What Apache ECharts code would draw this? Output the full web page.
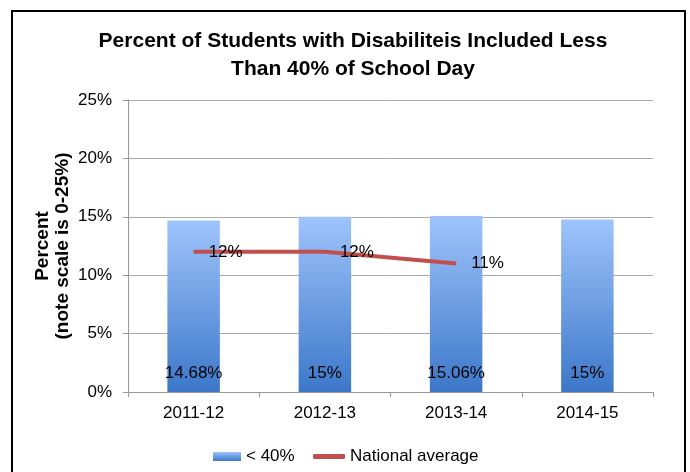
<!DOCTYPE html>
<html>
<head>
<meta charset="utf-8">
<script src="https://cdn.jsdelivr.net/npm/echarts@6/dist/echarts.min.js"></script>
<style>
  html, body { margin: 0; padding: 0; background: #fff; }
  #chart { width: 690px; height: 472px; }
</style>
</head>
<body>
<div id="chart"></div>
<script>
(function () {
  "use strict";
  const chart = echarts.init(document.getElementById("chart"));

  // values
  const years = ["2011-12", "2012-13", "2013-14", "2014-15"];
  const below40 = [14.68, 15, 15.06, 14.77];
  const below40Labels = ["14.68%", "15%", "15.06%", "15%"];
  const national = [12, 12, 11, null];
  const yTicks = [0, 5, 10, 15, 20, 25];

  const font = "'Liberation Sans', Arial, sans-serif";
  const legendText = { fontSize: 17, color: "#000", fontFamily: font };

  chart.setOption({
    animation: false,
    textStyle: { fontFamily: font },
    title: {
      text: "Percent of Students with Disabiliteis Included Less\nThan 40% of School Day",
      left: 348, textAlign: "center", top: 22,
      textStyle: { fontSize: 21, fontWeight: "bold", color: "#000", lineHeight: 28, fontFamily: font },
    },
    graphic: [{
      type: "rect", silent: true, z: 100,
      shape: { x: 12, y: 11, width: 673, height: 480 },
      style: { fill: "none", stroke: "#000", lineWidth: 2 },
    }],
    legend: [
      {
        left: 208, top: 443, itemWidth: 28, itemHeight: 9, itemGap: 0,
        textStyle: legendText,
        data: [{ name: "< 40%", icon: "rect" }],
      },
      {
        left: 308, top: 443, itemWidth: 32, itemHeight: 5, itemGap: 0,
        textStyle: legendText,
        data: [{ name: "National average", icon: "roundRect" }],
      },
    ],
    grid: { left: 128, right: 37, top: 100, bottom: 80 },
    xAxis: {
      type: "category", data: years,
      axisLine: { lineStyle: { color: "#999" } },
      axisTick: { show: true, length: 5, lineStyle: { color: "#999" } },
      axisLabel: { fontSize: 17, color: "#000", margin: 13, fontFamily: font },
    },
    yAxis: {
      type: "value", min: 0, max: 25, interval: 5,
      name: "Percent\n(note scale is 0-25%)", nameLocation: "middle", nameGap: 55, nameRotate: 90,
      nameMoveOverlap: false,
      nameTextStyle: { fontSize: 19, fontWeight: "bold", color: "#000", lineHeight: 20, fontFamily: font },
      axisLine: { show: true, lineStyle: { color: "#999" } },
      axisTick: { show: true, length: 5, lineStyle: { color: "#999" } },
      axisLabel: {
        fontSize: 17, color: "#000", margin: 16, fontFamily: font,
        formatter: v => yTicks.includes(v) ? v + "%" : "",
      },
      splitLine: { lineStyle: { color: "#aaa" } },
    },
    series: [
      {
        name: "< 40%", type: "bar", data: below40, barWidth: "40%",
        itemStyle: {
          color: new echarts.graphic.LinearGradient(0, 0, 0, 1, [
            { offset: 0, color: "#9ec4fb" },
            { offset: 1, color: "#3c77c9" },
          ]),
        },
        label: {
          show: true, position: "insideBottom", distance: 10,
          fontSize: 17, color: "#000", fontFamily: font,
          formatter: p => below40Labels[p.dataIndex],
        },
      },
      {
        name: "National average", type: "line", data: national,
        symbol: "circle", symbolSize: 0, showSymbol: true, z: 5,
        lineStyle: { color: "#c0504d", width: 4 }, itemStyle: { color: "#c0504d" },
        label: {
          show: true, position: "right", distance: 15,
          fontSize: 17, color: "#000", fontFamily: font,
          formatter: p => p.value + "%",
        },
      },
    ],
  });
})();
</script>
</body>
</html>
